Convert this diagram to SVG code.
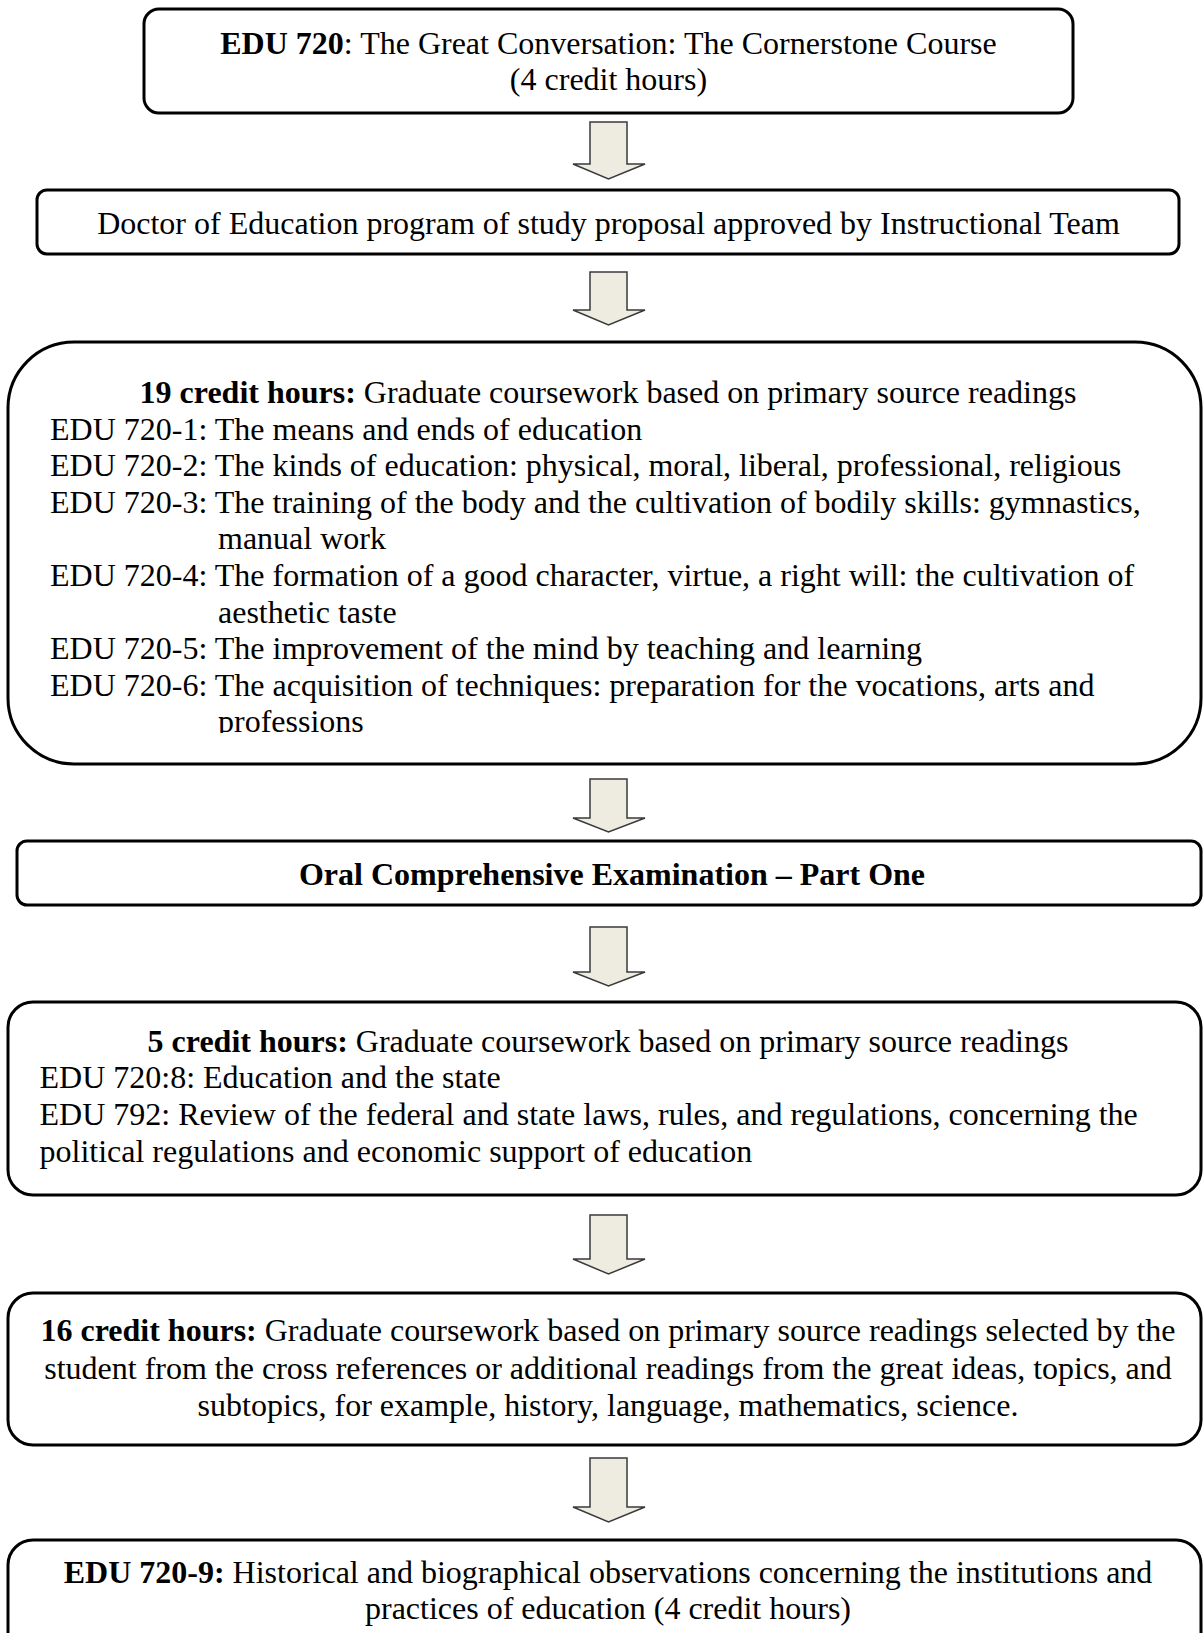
<svg xmlns="http://www.w3.org/2000/svg" width="1203" height="1633" viewBox="0 0 1203 1633">
<defs>
<style>
.box{fill:#fff;stroke:#000;stroke-width:3}
.t{font-family:"Liberation Serif","Times New Roman",serif;font-size:32px;fill:#000}
.c{text-anchor:middle}
.b{font-weight:bold}
.arr{fill:#EEECE1;stroke:#3a3a3a;stroke-width:1.5;stroke-linejoin:miter}
</style>
<clipPath id="clip3"><rect x="0" y="340" width="1203" height="393"/></clipPath>
</defs>
<rect width="1203" height="1633" fill="#fff"/>

<g id="connectors">
<path class="arr" d="M590,122 H627 V164 H645 L608.5,179 L573,164 H590 Z"/>
<path class="arr" d="M590,272 H627 V310 H645 L608.5,325 L573,310 H590 Z"/>
<path class="arr" d="M590,779 H627 V818 H645 L608.5,832 L573,818 H590 Z"/>
<path class="arr" d="M590,927 H627 V972 H645 L608.5,986 L573,972 H590 Z"/>
<path class="arr" d="M590,1215 H627 V1259 H645 L608.5,1274 L573,1259 H590 Z"/>
<path class="arr" d="M590,1458 H627 V1507 H645 L608.5,1522 L573,1507 H590 Z"/>
</g>

<g id="node1">
<rect class="box" x="144" y="9" width="929" height="104" rx="15"/>
<text class="t c" x="608.5" y="54"><tspan class="b">EDU 720</tspan>: The Great Conversation: The Cornerstone Course</text>
<text class="t c" x="608.5" y="90">(4 credit hours)</text>
</g>

<g id="node2">
<rect class="box" x="37" y="190" width="1142" height="64" rx="10"/>
<text class="t c" x="608.5" y="234">Doctor of Education program of study proposal approved by Instructional Team</text>
</g>

<g id="node3">
<rect class="box" x="8" y="342" width="1193" height="422" rx="66"/>
<g clip-path="url(#clip3)">
<text class="t c" x="608" y="403"><tspan class="b">19 credit hours:</tspan> Graduate coursework based on primary source readings</text>
<text class="t" x="50" y="439.5">EDU 720-1: The means and ends of education</text>
<text class="t" x="50" y="476">EDU 720-2: The kinds of education: physical, moral, liberal, professional, religious</text>
<text class="t" x="50" y="512.5">EDU 720-3: The training of the body and the cultivation of bodily skills: gymnastics,</text>
<text class="t" x="218" y="549">manual work</text>
<text class="t" x="50" y="586">EDU 720-4: The formation of a good character, virtue, a right will: the cultivation of</text>
<text class="t" x="218" y="622.5">aesthetic taste</text>
<text class="t" x="50" y="659">EDU 720-5: The improvement of the mind by teaching and learning</text>
<text class="t" x="50" y="695.5">EDU 720-6: The acquisition of techniques: preparation for the vocations, arts and</text>
<text class="t" x="218" y="732">professions</text>
</g>
</g>

<g id="node4">
<rect class="box" x="17" y="841" width="1184" height="64" rx="10"/>
<text class="t c b" x="612" y="885">Oral Comprehensive Examination – Part One</text>
</g>

<g id="node5">
<rect class="box" x="8" y="1002" width="1193" height="193" rx="25"/>
<text class="t c" x="608" y="1052"><tspan class="b">5 credit hours:</tspan> Graduate coursework based on primary source readings</text>
<text class="t" x="39.5" y="1088">EDU 720:8: Education and the state</text>
<text class="t" x="39.5" y="1125">EDU 792: Review of the federal and state laws, rules, and regulations, concerning the</text>
<text class="t" x="39.5" y="1162">political regulations and economic support of education</text>
</g>

<g id="node6">
<rect class="box" x="8" y="1293" width="1193" height="152" rx="25"/>
<text class="t c" x="608" y="1341"><tspan class="b">16 credit hours:</tspan> Graduate coursework based on primary source readings selected by the</text>
<text class="t c" x="608" y="1379">student from the cross references or additional readings from the great ideas, topics, and</text>
<text class="t c" x="608" y="1416">subtopics, for example, history, language, mathematics, science.</text>
</g>

<g id="node7">
<rect class="box" x="8" y="1540" width="1193" height="120" rx="25"/>
<text class="t c" x="608" y="1583"><tspan class="b">EDU 720-9:</tspan> Historical and biographical observations concerning the institutions and</text>
<text class="t c" x="608" y="1619">practices of education (4 credit hours)</text>
</g>
</svg>
